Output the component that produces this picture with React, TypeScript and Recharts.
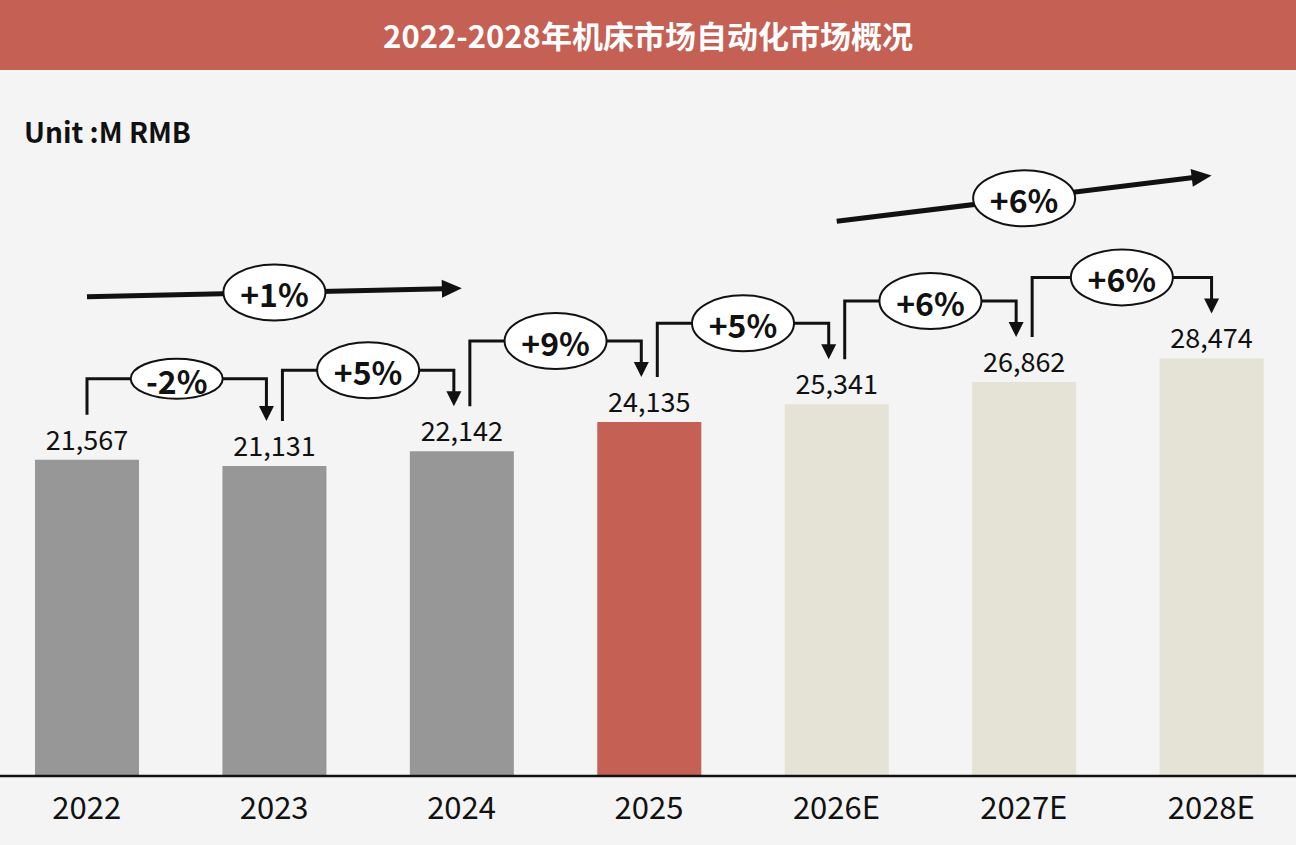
import React from 'react';
import { BarChart, Bar, XAxis, YAxis, Cell, LabelList } from 'recharts';

// Market size, M RMB
const YEARS = ['2022', '2023', '2024', '2025', '2026E', '2027E', '2028E'];
const MARKET = [21567, 21131, 22142, 24135, 25341, 26862, 28474];
// year-on-year growth between consecutive bars
const YOY = ['-2%', '+5%', '+9%', '+5%', '+6%', '+6%'];
// CAGR arrows
const TREND_FROM = [0, 4];
const TREND_TO = [2, 6];
const TREND_LABELS = ['+1%', '+6%'];
const TREND_LIFT = [163, 183];

const CHART_W = 1312;
const CHART_H = 845;
const STEP = CHART_W / YEARS.length;
const FONT = '"Noto Sans CJK SC", "Noto Sans", sans-serif';
const INK = '#111';

const barFill = (year: string) => {
  if (year.endsWith('E')) return '#e5e2d6';
  if (year === '2025') return '#c56054';
  return '#979797';
};

const data = YEARS.map((year, i) => ({ year, value: MARKET[i] }));

const Bubble = ({ cx, cy, text, small }: { cx: number; cy: number; text: string; small?: boolean }) => (
  <g>
    <ellipse cx={cx} cy={cy} rx={small ? 46 : 51} ry={small ? 20 : 28} fill="#fff" stroke={INK} strokeWidth={2} />
    <text x={cx} y={cy + 1} textAnchor="middle" dominantBaseline="central" fontFamily={FONT} fontWeight={700} fontSize={32} fill={INK}>
      {text}
    </text>
  </g>
);

const renderAnnot = (props: any) => {
  const vb = props.viewBox ?? props;
  const { x, y, width, height } = vb;
  const i: number = props.index ?? MARKET.indexOf(Number(props.value));
  const cx = x + width / 2;
  const base = y + height;
  const k = height / MARKET[i];
  const topOf = (j: number) => base - MARKET[j] * k;
  const cxOf = (j: number) => cx + (j - i) * STEP;
  const last = YEARS.length - 1;

  const parts: React.ReactNode[] = [];

  // yoy connector to next bar
  if (i < last) {
    const sx = cxOf(i) + (i === 0 ? 0 : 8);
    const ex = cxOf(i + 1) - (i + 1 === last ? 0 : 8);
    const sy = topOf(i) - 45;
    const tip = topOf(i + 1) - 45;
    const hy = Math.min(topOf(i), topOf(i + 1)) - 81;
    parts.push(
      <g key="yoy">
        <polyline points={`${sx},${sy} ${sx},${hy} ${ex},${hy} ${ex},${tip - 12}`} fill="none" stroke={INK} strokeWidth={3} />
        <polygon points={`${ex - 7.5},${tip - 15} ${ex + 7.5},${tip - 15} ${ex},${tip}`} fill={INK} />
        <Bubble cx={(sx + ex) / 2} cy={hy} text={YOY[i]} small={YOY[i].startsWith('-')} />
      </g>
    );
  }

  // CAGR arrow
  const t = TREND_FROM.indexOf(i);
  if (t >= 0) {
    const to = TREND_TO[t];
    const sx = cxOf(i);
    const sy = topOf(i) - TREND_LIFT[t];
    const ex = cxOf(to);
    const ey = topOf(to) - TREND_LIFT[t];
    const ang = Math.atan2(ey - sy, ex - sx);
    const hl = 20;
    const hw = 9;
    const bx = ex - hl * Math.cos(ang);
    const by = ey - hl * Math.sin(ang);
    const nx = -Math.sin(ang);
    const ny = Math.cos(ang);
    parts.push(
      <g key="trend">
        <line x1={sx} y1={sy} x2={bx + 2 * Math.cos(ang)} y2={by + 2 * Math.sin(ang)} stroke={INK} strokeWidth={5} />
        <polygon points={`${ex},${ey} ${bx + nx * hw},${by + ny * hw} ${bx - nx * hw},${by - ny * hw}`} fill={INK} />
        <Bubble cx={(sx + ex) / 2} cy={(sy + ey) / 2} text={TREND_LABELS[t]} />
      </g>
    );
  }

  parts.push(
    <text key="val" x={cx} y={topOf(i) - 10} textAnchor="middle" fontFamily={FONT} fontSize={27} fill={INK}>
      {MARKET[i].toLocaleString('en-US')}
    </text>
  );

  return <g>{parts}</g>;
};

const renderTick = (props: any) => {
  const { x, y, payload } = props;
  return (
    <text x={x} y={y + 41} textAnchor="middle" fontFamily={FONT} fontWeight={400} fontSize={31} fill={INK}>
      {payload.value}
    </text>
  );
};

export default function App() {
  return (
    <div
      style={{
        position: 'absolute',
        left: 0,
        top: 0,
        width: 1296,
        height: 845,
        overflow: 'hidden',
        background: '#f4f4f4',
      }}
    >
      <div style={{ position: 'absolute', left: -7, top: 0 }}>
        <BarChart width={CHART_W} height={CHART_H} data={data} margin={{ top: 72, right: 0, bottom: 0, left: 0 }}>
          <XAxis
            dataKey="year"
            interval={0}
            height={69}
            tickLine={false}
            tickSize={0}
            axisLine={{ stroke: INK, strokeWidth: 2.5 }}
            tick={renderTick}
          />
          <YAxis hide domain={[0, 48000]} />
          <Bar dataKey="value" barSize={104} isAnimationActive={false}>
            {data.map((d) => (
              <Cell key={d.year} fill={barFill(d.year)} />
            ))}
            <LabelList dataKey="value" content={renderAnnot} />
          </Bar>
        </BarChart>
      </div>
      <div
        style={{
          position: 'absolute',
          left: 0,
          top: 0,
          width: 1296,
          height: 70,
          background: '#c56054',
          color: '#fff',
          fontFamily: FONT,
          fontWeight: 700,
          fontSize: 31,
          lineHeight: '70px',
          textAlign: 'center',
        }}
      >
        2022-2028年机床市场自动化市场概况
      </div>
      <div
        style={{
          position: 'absolute',
          left: 24,
          top: 111,
          fontFamily: FONT,
          fontWeight: 700,
          fontSize: 28,
          color: INK,
        }}
      >
        Unit :M RMB
      </div>
    </div>
  );
}
